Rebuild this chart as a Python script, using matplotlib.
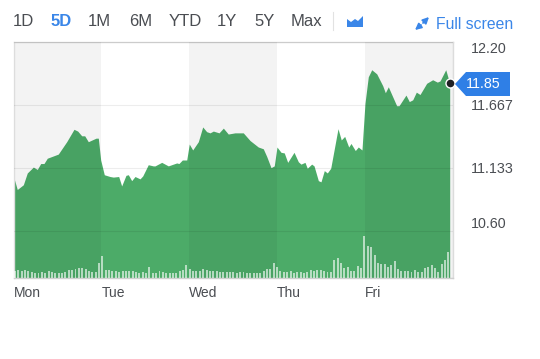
#!/usr/bin/env python3
"""Five day stock price chart with volume bars."""
import matplotlib
matplotlib.use("Agg")
import matplotlib.pyplot as plt
import numpy as np
from matplotlib.patches import Polygon

days = [0.0, 0.043, 0.112, 0.157, 0.226, 0.271, 0.310, 0.347, 0.385, 0.510, 0.606, 0.689, 0.731, 0.777, 0.811, 0.852,
        0.940, 0.966, 0.993, 1.034, 1.099, 1.137, 1.198, 1.232, 1.281, 1.308, 1.346, 1.384, 1.441, 1.472, 1.535, 1.592,
        1.612, 1.688, 1.763, 1.859, 1.884, 1.923, 1.973, 2.002, 2.041, 2.105, 2.155, 2.200, 2.238, 2.276, 2.341, 2.390,
        2.446, 2.523, 2.617, 2.694, 2.788, 2.845, 2.884, 2.933, 2.970, 3.001, 3.047, 3.084, 3.123, 3.195, 3.244, 3.274,
        3.320, 3.346, 3.396, 3.423, 3.472, 3.502, 3.540, 3.574, 3.613, 3.696, 3.733, 3.772, 3.818, 3.844, 3.893, 3.927,
        3.969, 4.003, 4.041, 4.080, 4.137, 4.205, 4.235, 4.269, 4.364, 4.391, 4.470, 4.508, 4.547, 4.588, 4.630, 4.706,
        4.774, 4.827, 4.858, 4.923, 4.968]
prices = [11.06, 10.95, 10.99, 11.09, 11.14, 11.12, 11.17, 11.17, 11.215, 11.25, 11.355, 11.46, 11.445, 11.405, 11.405, 11.355,
          11.385, 11.385, 11.20, 11.075, 11.06, 11.055, 11.06, 10.98, 11.07, 11.075, 11.025, 11.06, 11.04, 11.065, 11.16, 11.15,
          11.15, 11.18, 11.15, 11.175, 11.17, 11.20, 11.20, 11.335, 11.285, 11.355, 11.48, 11.44, 11.43, 11.445, 11.43, 11.47,
          11.42, 11.43, 11.43, 11.365, 11.31, 11.295, 11.23, 11.135, 11.15, 11.31, 11.265, 11.26, 11.18, 11.265, 11.185, 11.165,
          11.18, 11.13, 11.165, 11.15, 11.025, 11.015, 11.11, 11.09, 11.13, 11.465, 11.37, 11.40, 11.31, 11.34, 11.28, 11.31,
          11.285, 11.68, 11.905, 11.965, 11.93, 11.83, 11.77, 11.82, 11.66, 11.66, 11.75, 11.695, 11.71, 11.775, 11.755, 11.85,
          11.88, 11.86, 11.87, 11.965, 11.85]
volume = [22, 25, 20, 24, 22, 18, 16, 16, 18, 16, 22, 19, 16, 16, 15, 17, 25, 25, 26, 30, 29, 27, 22, 18, 17, 45,
          65, 25, 23, 22, 22, 18, 22, 22, 20, 21, 18, 16, 18, 15, 32, 15, 14, 20, 18, 16, 16, 15, 16, 20, 25, 38,
          26, 20, 22, 22, 28, 25, 22, 20, 20, 17, 17, 17, 17, 17, 15, 17, 17, 16, 16, 16, 16, 14, 20, 27, 28, 45,
          33, 22, 17, 17, 22, 15, 18, 17, 15, 17, 24, 22, 24, 24, 22, 19, 19, 55, 60, 45, 30, 33, 20, 22, 35, 30,
          125, 95, 92, 70, 45, 42, 42, 32, 38, 50, 28, 22, 22, 20, 18, 24, 18, 18, 30, 32, 38, 30, 18, 42, 55, 78]
y_ticks = [10.60, 11.133, 11.667, 12.20]
y_labels = ["10.60", "11.133", "11.667", "12.20"]
day_labels = ["Mon", "Tue", "Wed", "Thu", "Fri"]
range_labels = ["1D", "5D", "1M", "6M", "YTD", "1Y", "5Y", "Max"]
range_x = [13, 51, 88, 129, 169, 217, 254, 291]

C_GREEN = "#4cab68"
C_BLUE = "#3a86e8"
C_TEXT = "#4a4d52"
C_EDGE = "#dcdcdc"

plt.rcParams["font.family"] = ["Liberation Sans", "DejaVu Sans"]


def fx(x):
    return x / 540


def fy(y):
    return 1 - y / 359


fig = plt.figure(figsize=(5.4, 3.59), dpi=100)
rect = [fx(13.5), fy(278), fx(439), 236 / 359]
ax = fig.add_axes(rect)
ax.fill_between(days, prices, 10.2, color=C_GREEN, linewidth=0, zorder=1)
for start in [0, 2, 4]:
    ax.axvspan(start, start + 1, color="black", alpha=0.048, linewidth=0, zorder=3)
ax.set_xlim(0, 5)
ax.set_ylim(10.2, 12.2)
ax.set_yticks(y_ticks)
ax.set_yticklabels(y_labels, fontsize=10.3, color=C_TEXT)
ax.yaxis.tick_right()
ax.tick_params(axis="y", length=0, pad=13)
ax.set_xticks(range(5))
ax.set_xticklabels(day_labels, fontsize=10, color=C_TEXT, ha="left")
ax.tick_params(axis="x", length=0, pad=6)
ax.get_yticklabels()[0].set_va("bottom")
ax.get_yticklabels()[3].set_va("top")
ax.grid(axis="y", color="black", alpha=0.07, linewidth=0.8)
ax.set_axisbelow(False)
for name, spine in ax.spines.items():
    spine.set_color(C_EDGE)
    spine.set_linewidth(1.0)
ax.spines["left"].set_color("#e8e8e8")
ax.spines["bottom"].set_color("#cfcfcf")

# volume sits in its own axes, over the price fill
ax_vol = fig.add_axes(rect)
ax_vol.patch.set_visible(False)
ax_vol.bar(np.arange(len(volume)), volume, width=0.58, color="white", alpha=0.6, linewidth=0)
ax_vol.set_xlim(-0.446, 130.2)
ax_vol.set_ylim(0, 708)
ax_vol.axis("off")

for label, x in zip(range_labels, range_x):
    color = C_BLUE if label == "5D" else C_TEXT
    fig.text(fx(x), fy(26.5), label, fontsize=12, color=color, ha="left", va="baseline",
             fontweight="bold" if label == "5D" else "normal")
fig.text(fx(436), fy(29), "Full screen", fontsize=11.3, color=C_BLUE, ha="left", va="baseline")

fig.add_artist(plt.Line2D([fx(333), fx(333)], [fy(12), fy(30)], color="#e2e2e2", linewidth=0.8))
fig.add_artist(Polygon([(fx(x), fy(y)) for x, y in [(347, 27), (347, 19), (351, 22), (355, 19), (358, 21), (363, 16),
                                                    (363, 27)]], closed=True, color=C_BLUE, linewidth=0))
for tail, head in [((421, 25), (415, 30)), ((423, 23), (429, 17))]:
    fig.add_artist(matplotlib.patches.FancyArrowPatch((fx(tail[0]), fy(tail[1])), (fx(head[0]), fy(head[1])),
                                                      transform=fig.transFigure, arrowstyle="-|>", mutation_scale=9,
                                                      color=C_BLUE, linewidth=1.3, shrinkA=0, shrinkB=0))

# current price marker and tag
ax.plot(days[-1], prices[-1], "o", color="#1f2124", markersize=6.5, markeredgecolor="white", markeredgewidth=1,
        clip_on=False, zorder=6)
fig.add_artist(Polygon([(fx(x), fy(y)) for x, y in [(455, 84), (466, 72), (510, 72), (510, 96), (466, 96)]],
                       closed=True, color="#2f7fe6", linewidth=0, zorder=5))
fig.text(fx(466), fy(84), "11.85", fontsize=10.3, color="white", ha="left", va="center", zorder=6)

fig.savefig("out.png", dpi=100)
